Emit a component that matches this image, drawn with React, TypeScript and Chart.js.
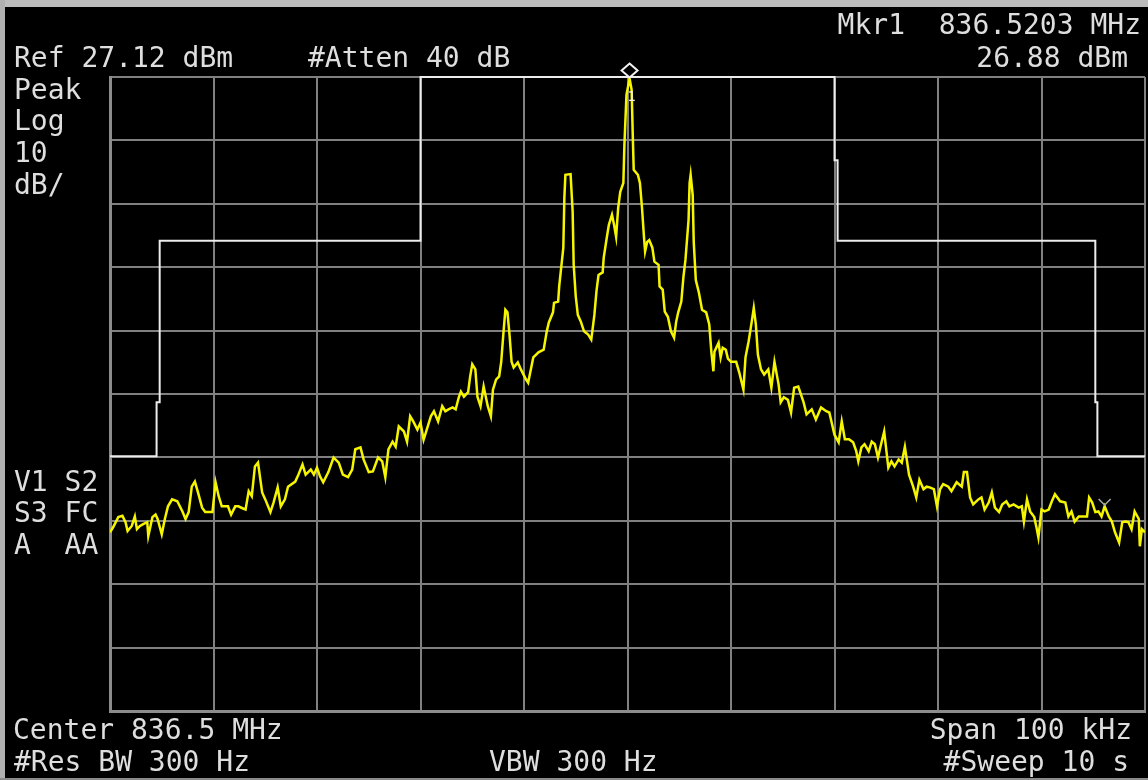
import React, { useEffect, useRef } from "react";
import { Chart, registerables } from "chart.js";

Chart.register(...registerables);

// Frequency offset from center (kHz) and level (dBm) of the measured trace
const traceFreqKHz = [
  -50.0, -49.7, -49.2, -48.8, -48.5, -48.3, -47.9, -47.6, -47.4, -47.1,
  -46.8, -46.4, -46.3, -45.9, -45.6, -45.4, -45.0, -44.7, -44.4, -44.0,
  -43.5, -43.0, -42.7, -42.4, -42.1, -41.8, -41.5, -41.1, -40.8, -40.1,
  -39.8, -39.5, -39.2, -38.6, -38.3, -37.9, -37.6, -37.2, -36.9, -36.6,
  -36.3, -36.0, -35.7, -35.3, -35.0, -34.5, -34.2, -33.8, -33.5, -33.1,
  -32.8, -32.1, -31.8, -31.4, -31.1, -30.6, -30.3, -30.0, -29.7, -29.4,
  -28.9, -28.4, -27.9, -27.5, -27.0, -26.6, -26.3, -25.8, -25.5, -25.0,
  -24.6, -24.1, -23.7, -23.4, -23.1, -22.7, -22.4, -22.1, -21.6, -21.3,
  -21.0, -20.7, -20.3, -20.0, -19.7, -19.3, -19.0, -18.7, -18.3, -17.9,
  -17.6, -17.3, -16.9, -16.6, -16.3, -16.1, -15.8, -15.4, -15.2, -15.0,
  -14.7, -14.5, -14.2, -13.9, -13.5, -13.2, -13.0, -12.7, -12.4, -12.2,
  -12.0, -11.8, -11.6, -11.4, -11.2, -11.0, -10.6, -10.3, -9.8, -9.6,
  -9.3, -9.1, -8.6, -8.1, -7.8, -7.6, -7.2, -7.1, -6.7, -6.6,
  -6.2, -6.1, -6.0, -5.5, -5.3, -5.2, -5.0, -4.8, -4.5, -4.2,
  -3.8, -3.5, -3.2, -3.0, -2.8, -2.4, -2.3, -2.0, -1.8, -1.5,
  -1.3, -1.1, -0.9, -0.7, -0.4, -0.3, -0.1, 0.2, 0.4, 0.5,
  0.6, 1.0, 1.2, 1.4, 1.6, 1.7, 1.9, 2.1, 2.4, 2.6,
  3.0, 3.1, 3.4, 3.6, 3.9, 4.2, 4.5, 4.7, 4.9, 5.2,
  5.4, 5.6, 5.9, 6.0, 6.1, 6.3, 6.4, 6.6, 6.9, 7.2,
  7.6, 7.9, 8.1, 8.3, 8.4, 8.8, 9.0, 9.2, 9.5, 9.7,
  10.0, 10.5, 10.8, 11.2, 11.4, 11.7, 12.0, 12.2, 12.4, 12.6,
  12.9, 13.2, 13.6, 13.9, 14.2, 14.6, 14.8, 15.1, 15.5, 15.8,
  16.1, 16.5, 17.0, 17.3, 17.8, 18.2, 18.7, 19.2, 19.5, 20.0,
  20.4, 20.7, 21.0, 21.4, 21.8, 22.1, 22.3, 22.6, 22.9, 23.3,
  23.6, 23.9, 24.2, 24.5, 24.8, 25.2, 25.5, 25.8, 26.2, 26.5,
  26.8, 27.2, 27.6, 27.9, 28.2, 28.6, 28.9, 29.2, 29.6, 29.9,
  30.2, 30.5, 31.0, 31.3, 31.8, 32.3, 32.5, 32.8, 33.1, 33.4,
  33.9, 34.2, 34.5, 34.9, 35.2, 35.5, 35.9, 36.2, 36.6, 36.9,
  37.3, 37.8, 38.1, 38.3, 38.6, 38.9, 39.3, 39.5, 39.7, 40.0,
  40.3, 40.7, 41.0, 41.3, 41.8, 42.3, 42.6, 42.9, 43.2, 43.6,
  44.1, 44.4, 44.6, 44.9, 45.2, 45.5, 45.8, 46.1, 46.5, 46.8,
  47.1, 47.5, 47.8, 48.1, 48.4, 48.7, 49.0, 49.4, 49.5, 49.7,
  50.0,
];

const traceLevelDbm = [
  -44.7, -43.9, -42.3, -42.1, -43.1, -44.5, -43.7, -42.2, -44.2, -43.7,
  -43.4, -43.1, -45.3, -42.3, -41.9, -42.6, -45.0, -42.6, -40.6, -39.5,
  -39.8, -41.4, -42.6, -41.5, -37.5, -36.7, -38.4, -40.8, -41.5, -41.5,
  -36.8, -39.0, -40.6, -40.6, -41.9, -40.6, -40.6, -40.9, -41.1, -38.2,
  -39.0, -34.3, -33.7, -38.4, -39.5, -41.5, -40.0, -37.6, -40.6, -39.5,
  -37.5, -36.7, -35.6, -34.0, -35.6, -34.8, -35.6, -34.5, -35.9, -36.8,
  -35.2, -32.9, -33.7, -35.6, -36.0, -34.8, -31.6, -31.3, -33.2, -35.2,
  -35.1, -32.9, -33.5, -36.0, -31.6, -30.4, -31.2, -28.0, -28.8, -30.4,
  -26.4, -27.2, -28.5, -27.4, -30.1, -28.0, -26.4, -25.6, -27.2, -24.8,
  -25.6, -25.3, -25.0, -25.3, -23.4, -22.5, -23.3, -22.6, -20.1, -18.2,
  -19.0, -23.3, -24.8, -21.7, -24.8, -26.4, -22.2, -20.6, -20.1, -17.8,
  -13.5, -9.6, -10.0, -13.5, -17.8, -18.7, -17.9, -19.0, -20.6, -21.1,
  -18.7, -17.1, -16.3, -15.9, -13.0, -11.6, -10.0, -8.5, -8.3, -5.9,
  0.2, 8.1, 11.7, 11.8, 5.9, -2.5, -7.5, -10.4, -11.5, -13.0,
  -13.5, -14.3, -10.4, -6.7, -4.1, -3.7, -1.4, 1.8, 3.8, 5.4,
  3.8, 1.9, 6.5, 9.0, 10.4, 16.4, 24.3, 26.88, 25.1, 18.5,
  12.5, 11.7, 10.4, 6.5, 1.7, -0.4, 1.1, 1.4, 0.2, -2.0,
  -2.5, -5.9, -6.4, -9.9, -10.7, -13.0, -14.0, -11.5, -10.0, -8.3,
  -4.5, -1.7, 4.6, 10.4, 11.7, 8.5, 1.1, -4.9, -6.9, -9.6,
  -10.0, -11.9, -16.2, -19.3, -16.2, -14.8, -17.1, -15.6, -15.9, -17.3,
  -17.8, -17.8, -19.5, -22.2, -17.1, -14.6, -11.5, -9.3, -11.9, -16.7,
  -19.0, -19.8, -19.0, -21.9, -17.8, -21.4, -24.2, -23.4, -23.8, -25.8,
  -21.9, -21.7, -24.1, -26.1, -25.3, -26.9, -25.0, -25.6, -25.8, -29.3,
  -30.5, -27.2, -30.0, -30.0, -30.5, -31.9, -33.5, -31.3, -30.8, -31.9,
  -30.4, -30.8, -32.9, -30.8, -28.8, -34.5, -33.5, -34.3, -33.2, -33.7,
  -31.2, -35.6, -37.5, -39.2, -36.4, -37.9, -37.5, -37.6, -37.9, -40.6,
  -37.9, -37.1, -37.5, -38.2, -36.8, -37.5, -35.2, -35.2, -39.2, -40.3,
  -39.5, -39.2, -41.1, -40.0, -38.4, -40.8, -41.5, -40.3, -39.8, -40.6,
  -40.3, -40.8, -40.6, -43.0, -39.5, -41.4, -42.3, -43.8, -45.5, -41.1,
  -41.4, -41.1, -39.8, -38.7, -39.8, -40.0, -42.2, -41.4, -43.0, -42.2,
  -42.2, -42.2, -39.2, -40.0, -41.5, -41.4, -42.2, -40.6, -42.2, -43.0,
  -44.7, -46.3, -43.1, -43.0, -43.1, -44.2, -41.4, -42.6, -46.9, -44.2,
  -44.7,
];

// Limit mask (white line)
const maskFreqKHz = [-50, -45.5, -45.5, -45.2, -45.2, -20.0, -20.0, 20.0, 20.0, 20.3, 20.3, 45.2, 45.2, 45.4, 45.4, 50];
const maskLevelDbm = [-32.7, -32.7, -24.2, -24.2, 1.3, 1.3, 27.12, 27.12, 14.0, 14.0, 1.3, 1.3, -24.2, -24.2, -32.7, -32.7];

// Axis divisions
const xDivisionsKHz = [-50, -40, -30, -20, -10, 0, 10, 20, 30, 40, 50];
const yDivisionsDbm = [27.12, 17.12, 7.12, -2.88, -12.88, -22.88, -32.88, -42.88, -52.88, -62.88, -72.88];

// Markers
const marker1FreqKHz = 0.2;
const marker1LevelDbm = 26.88;
const marker2FreqKHz = 46.1;
const marker2LevelDbm = -39.9;

const FONT = '"DejaVu Sans Mono", "Liberation Mono", monospace';
const TEXT_COLOR = "#dedede";

const markerPlugin = {
  id: "markerPlugin",
  afterDatasetsDraw(chart: any) {
    const { ctx, scales } = chart;
    const x = scales.x;
    const y = scales.y;
    const px = x.getPixelForValue(marker1FreqKHz);
    const py = y.getPixelForValue(marker1LevelDbm);
    ctx.save();
    const cy = py - 8;
    ctx.strokeStyle = "#f2f2f2";
    ctx.lineWidth = 2;
    ctx.beginPath();
    ctx.moveTo(px, cy - 7);
    ctx.lineTo(px + 8, cy);
    ctx.lineTo(px, cy + 7);
    ctx.lineTo(px - 8, cy);
    ctx.closePath();
    ctx.stroke();
    ctx.fillStyle = "#eeeeee";
    ctx.font = `14px ${FONT}`;
    ctx.textAlign = "center";
    ctx.textBaseline = "alphabetic";
    ctx.fillText("1", px + 2, py + 22);
    const qx = x.getPixelForValue(marker2FreqKHz);
    const qy = y.getPixelForValue(marker2LevelDbm);
    ctx.strokeStyle = "#a8a8a8";
    ctx.lineWidth = 1.5;
    ctx.beginPath();
    ctx.moveTo(qx - 6, qy - 3);
    ctx.lineTo(qx, qy + 3);
    ctx.lineTo(qx + 6, qy - 3);
    ctx.stroke();
    ctx.restore();
  },
};

type Label = { text: string; left?: number; right?: number; baseline: number };

const labels: Label[] = [
  { text: "Mkr1  836.5203 MHz", right: 7, baseline: 35 },
  { text: "Ref 27.12 dBm", left: 14, baseline: 68 },
  { text: "#Atten 40 dB", left: 308, baseline: 68 },
  { text: "26.88 dBm", right: 20, baseline: 68 },
  { text: "Peak", left: 14, baseline: 100 },
  { text: "Log", left: 14, baseline: 131 },
  { text: "10", left: 14, baseline: 163 },
  { text: "dB/", left: 14, baseline: 195 },
  { text: "V1 S2", left: 14, baseline: 492 },
  { text: "S3 FC", left: 14, baseline: 523 },
  { text: "A  AA", left: 14, baseline: 555 },
  { text: "Center 836.5 MHz", left: 13, baseline: 740 },
  { text: "Span 100 kHz", right: 16, baseline: 740 },
  { text: "#Res BW 300 Hz", left: 14, baseline: 772 },
  { text: "VBW 300 Hz", left: 489, baseline: 772 },
  { text: "#Sweep 10 s", right: 19, baseline: 772 },
];

export default function App() {
  const canvasRef = useRef<HTMLCanvasElement | null>(null);

  useEffect(() => {
    const canvas = canvasRef.current;
    if (!canvas) return;
    const traceData = traceFreqKHz.map((f, i) => ({ x: f, y: traceLevelDbm[i] }));
    const maskData = maskFreqKHz.map((f, i) => ({ x: f, y: maskLevelDbm[i] }));

    const chart = new Chart(canvas, {
      type: "line",
      data: {
        datasets: [
          {
            label: "Limit",
            data: maskData,
            borderColor: "#ececec",
            borderWidth: 2,
            pointRadius: 0,
            tension: 0,
            clip: false as any,
          },
          {
            label: "Trace",
            data: traceData,
            borderColor: "#f5f500",
            borderWidth: 2.5,
            pointRadius: 0,
            tension: 0,
          },
        ],
      },
      options: {
        animation: false,
        responsive: false,
        maintainAspectRatio: false,
        parsing: false as any,
        events: [],
        layout: { padding: { left: 110, top: 77, right: 3, bottom: 69 } },
        plugins: {
          legend: { display: false },
          tooltip: { enabled: false },
          title: { display: false },
        },
        scales: {
          x: {
            type: "linear",
            min: -50,
            max: 50,
            ticks: { display: false },
            afterBuildTicks: (s: any) => {
              s.ticks = xDivisionsKHz.map((v) => ({ value: v }));
            },
            grid: { color: "#808080", lineWidth: 2, drawTicks: false },
            border: { color: "#8c8c8c", width: 3 },
          },
          y: {
            type: "linear",
            min: -72.88,
            max: 27.12,
            ticks: { display: false },
            afterBuildTicks: (s: any) => {
              s.ticks = yDivisionsDbm.map((v) => ({ value: v }));
            },
            grid: { color: "#808080", lineWidth: 2, drawTicks: false },
            border: { color: "#8c8c8c", width: 3 },
          },
        },
      },
      plugins: [markerPlugin],
    });
    return () => chart.destroy();
  }, []);

  return (
    <div
      style={{
        position: "fixed",
        left: 0,
        top: 0,
        width: 1148,
        height: 780,
        background: "#000",
        overflow: "hidden",
      }}
    >
      <canvas ref={canvasRef} width={1148} height={780} style={{ position: "absolute", left: 0, top: 0, width: 1148, height: 780 }} />
      <div style={{ position: "absolute", left: 0, top: 0, width: 1148, height: 7, background: "#bcbcbc" }} />
      <div style={{ position: "absolute", left: 0, top: 0, width: 5, height: 780, background: "#b0b0b0" }} />
      <div style={{ position: "absolute", left: 0, top: 778, width: 1148, height: 2, background: "#8a8a8a" }} />
      {labels.map((l, i) => (
        <div
          key={i}
          style={{
            position: "absolute",
            top: l.baseline - 23.7,
            left: l.left,
            right: l.right,
            fontFamily: FONT,
            fontSize: 28,
            lineHeight: "28px",
            color: TEXT_COLOR,
            whiteSpace: "pre",
          }}
        >
          {l.text}
        </div>
      ))}
    </div>
  );
}
